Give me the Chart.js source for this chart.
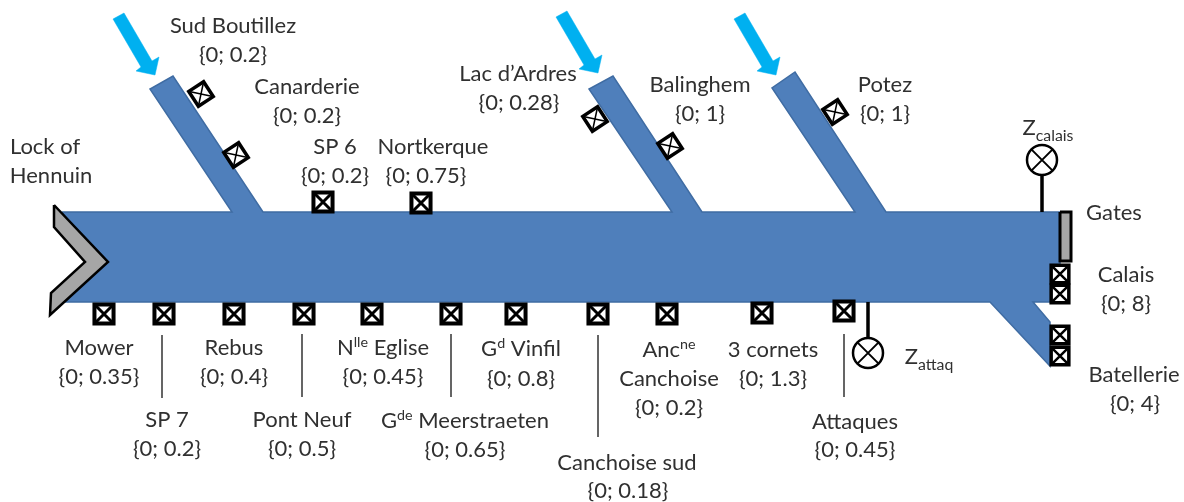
<!DOCTYPE html>
<html lang="en">
<head>
<meta charset="UTF-8">
<title>Canal network</title>
<script src="https://cdn.jsdelivr.net/npm/chart.js"></script>
<style>
    html, body { margin: 0; background: #fff; }
    #wrap { width: 1184px; height: 502px; position: relative; }
</style>
</head>
<body>
<div id="wrap"><canvas id="chart"></canvas></div>
<script>
// schematic units: one unit is one pixel of the 1184x502 drawing, y runs downwards
const canalOutline = [[62,212],[232,212],[150,89],[173,76],[263,212],[672,212],[589,89],[613,76],[702,212],[855,212],[772,88],[795,72],[886,212],[1060,212],[1060,302],[1033,302],[1050,322],[1050,366],[990,302],[66,302],[95,262]];
const lockOutline = [[54,205],[108,262],[50,315],[51,293],[85,262],[54,227]];
const gatesBar = [[1060,212],[1071,212],[1071,261],[1060,261]];
const inflowArrows = [
    [[113,19],[124,13],[152,61],[159,57],[155,75],[136,71],[141,67]],
    [[556,17],[567,11],[595,59],[602,55],[598,73],[579,69],[584,65]],
    [[734,19],[745,13],[773,61],[780,57],[776,75],[757,71],[762,67]]
];
const leaderLines = [[[162,335],[162,398]],[[302,334],[302,397]],[[451,334],[451,397]],[[598,335],[598,437]],[[844,334],[844,397]]];
const sensorStems = [[[1042,175],[1042,212]],[[868,302],[868,338]]];

const straightGateX = [323,421,104,164,234,304,372,451,516,598,667,762,844];
const straightGateY = [202,203,314,314,314,314,314,314,314,314,314,313,311];
const tiltedGateX = [201,236,595,670,835];
const tiltedGateY = [94,155,119,146,112];
const tiltedGateAngle = [-33,-33,-33,-33,-33];
const outletGateX = [1060,1060,1060,1060];
const outletGateY = [274,294,335,356];
const sensorX = [1042,868];
const sensorY = [160,353];

// ^{..} is a superscript run and _{..} a subscript run
const labelTexts = ['Sud Boutillez','{0; 0.2}','Canarderie','{0; 0.2}','SP 6','{0; 0.2}','Nortkerque','{0; 0.75}','Lock of','Hennuin',"Lac d\u2019Ardres",'{0; 0.28}','Balinghem','{0; 1}','Potez','{0; 1}','Z_{calais}','Gates','Calais','{0; 8}','Batellerie','{0; 4}','Mower','{0; 0.35}','Rebus','{0; 0.4}','N^{lle} Eglise','{0; 0.45}','G^{d} Vinfil','{0; 0.8}','SP 7','{0; 0.2}','Pont Neuf','{0; 0.5}','G^{de} Meerstraeten','{0; 0.65}','Canchoise sud','{0; 0.18}','Anc^{ne}','Canchoise','{0; 0.2}','3 cornets','{0; 1.3}','Attaques','{0; 0.45}','Z_{attaq}'];
const labelX = [233,233,307,307,335,335,433,426,45,51,518,519,700,700,885,885,1048,1114,1126,1126,1134,1135,99,99,234,234,383,383,521,521,167,167,302,302,465,465,627,628,669,669,669,773,773,855,855,929];
const labelY = [25,54,86,115,146,175,146,175,146,175,73,102,84,113,84,113,127,212,274,303,374,403,347,376,347,376,347,376,348,378,419,448,419,448,420,449,462,490,349,378,407,349,378,421,449,356];

const toPoints = pairs => pairs.map(([x, y]) => ({ x, y }));
const zipPoints = (xs, ys) => xs.map((x, i) => ({ x, y: ys[i] }));

function polygon(pairs, fillColor, borderColor, borderWidth) {
    return { type: 'scatter', data: toPoints(pairs.concat([pairs[0]])), showLine: true, fill: 'shape', backgroundColor: fillColor, borderColor, borderWidth, pointRadius: 0, tension: 0 };
}
function segment(pairs, width, color) {
    return { type: 'scatter', data: toPoints(pairs), showLine: true, fill: false, borderColor: color, borderWidth: width, pointRadius: 0 };
}
function marks(points, style, radius, width, rotation) {
    return { type: 'scatter', data: points, showLine: false, pointStyle: style, pointRadius: radius, pointBorderWidth: width, pointBorderColor: '#000', pointBackgroundColor: '#fff', pointRotation: rotation || 0 };
}

const straightGates = zipPoints(straightGateX, straightGateY);
const tiltedGates = zipPoints(tiltedGateX, tiltedGateY);
const outletGates = zipPoints(outletGateX, outletGateY);
const sensors = zipPoints(sensorX, sensorY);

// listed back to front, chart.js paints the first dataset last
const datasets = [
    polygon(canalOutline, '#4f7fbb', '#3f6ca3', 1.5),
    polygon(lockOutline, '#a6a6a6', '#000', 2.5),
    polygon(gatesBar, '#a6a6a6', '#000', 3),
    ...inflowArrows.map(a => polygon(a, '#00b0f0', '#00b0f0', 0.5)),
    ...leaderLines.map(l => segment(l, 1.5, '#333')),
    ...sensorStems.map(l => segment(l, 3.5, '#000')),
    marks(straightGates, 'rect', 13.5, 4),
    marks(straightGates, 'crossRot', 13, 3),
    marks(tiltedGates, 'rect', 12.5, 3.5, tiltedGateAngle),
    marks(tiltedGates, 'crossRot', 12, 1.5, tiltedGateAngle),
    marks(outletGates, 'rect', 12.5, 3.5),
    marks(outletGates, 'crossRot', 12, 2.5),
    marks(sensors, 'circle', 15, 2.5),
    marks(sensors, 'crossRot', 15, 2)
].reverse();

const FONT = 'Lato, Carlito, sans-serif';
const TEXT_SIZE = 22;

function splitRuns(text) {
    const runs = [];
    const re = /([\^_])\{([^}]*)\}/g;
    let last = 0, m;
    while ((m = re.exec(text))) {
        if (m.index > last) runs.push({ t: text.slice(last, m.index), kind: '' });
        runs.push({ t: m[2], kind: m[1] });
        last = re.lastIndex;
    }
    if (last < text.length) runs.push({ t: text.slice(last), kind: '' });
    return runs;
}

const labelPlugin = {
    id: 'canalLabels',
    afterDatasetsDraw(chart) {
        const { ctx, scales } = chart;
        ctx.save();
        ctx.textBaseline = 'alphabetic';
        ctx.textAlign = 'left';
        ctx.fillStyle = '#303030';
        labelTexts.forEach((text, i) => {
            const runs = splitRuns(text);
            let width = 0;
            runs.forEach(r => {
                r.size = r.kind ? (r.kind === '_' ? TEXT_SIZE * 0.72 : TEXT_SIZE * 0.65) : TEXT_SIZE;
                ctx.font = r.size + 'px ' + FONT;
                r.w = ctx.measureText(r.t).width;
                width += r.w;
            });
            let x = scales.x.getPixelForValue(labelX[i]) - width / 2;
            const base = scales.y.getPixelForValue(labelY[i]) + TEXT_SIZE * 0.35;
            runs.forEach(r => {
                ctx.font = r.size + 'px ' + FONT;
                const dy = r.kind === '^' ? -TEXT_SIZE * 0.35 : r.kind === '_' ? TEXT_SIZE * 0.28 : 0;
                ctx.fillText(r.t, x, base + dy);
                x += r.w;
            });
        });
        ctx.restore();
    }
};

new Chart(document.getElementById('chart').getContext('2d'), {
    data: { datasets },
    plugins: [labelPlugin],
    options: {
        responsive: true,
        maintainAspectRatio: false,
        animation: false,
        layout: { padding: 0, autoPadding: false },
        plugins: { legend: { display: false }, tooltip: { enabled: false }, title: { display: false } },
        scales: {
            x: { type: 'linear', display: false, min: 0, max: 1184 },
            y: { type: 'linear', display: false, min: 0, max: 502, reverse: true }
        }
    }
});
</script>
</body>
</html>
